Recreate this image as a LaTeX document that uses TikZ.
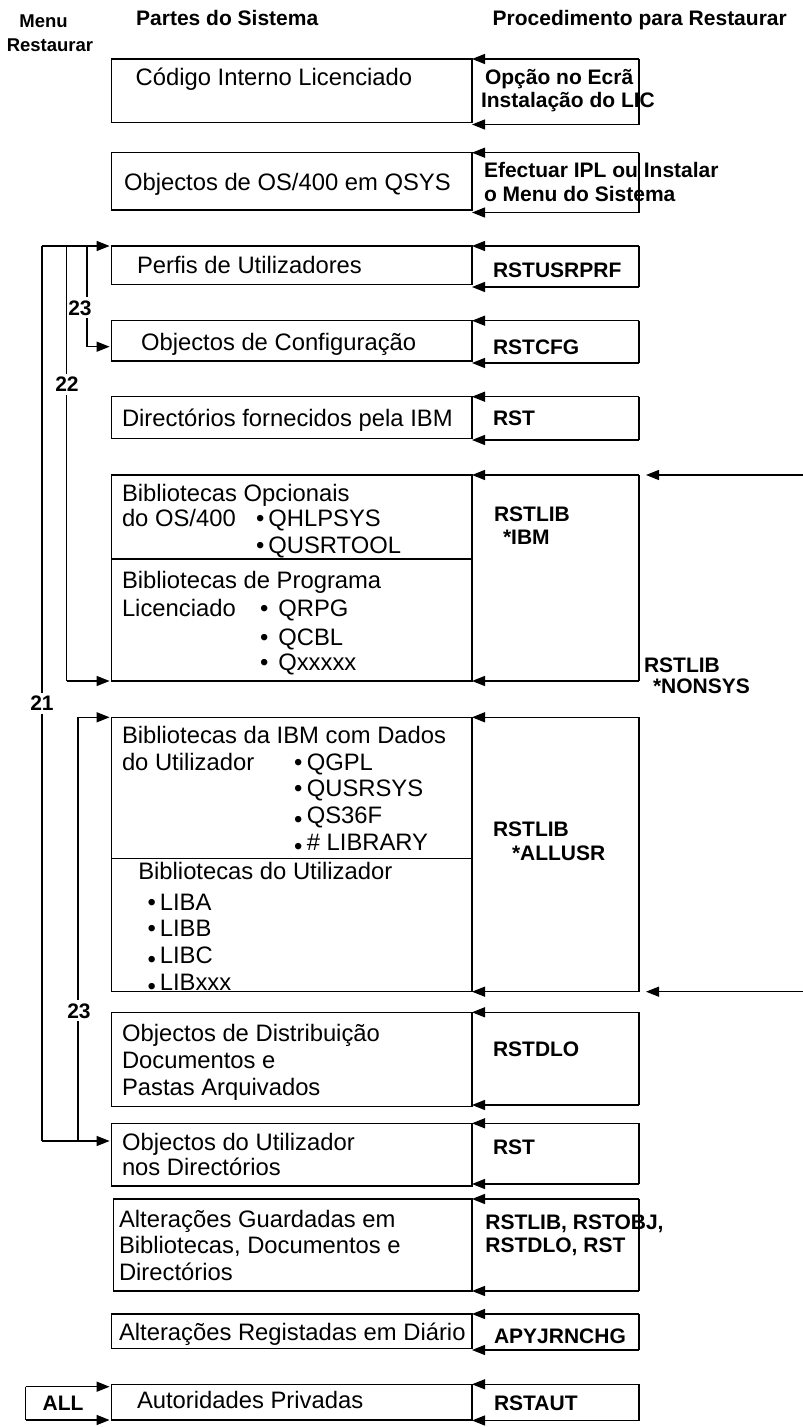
\documentclass[tikz,border=0pt]{standalone}
\usepackage{fontspec}
\setmainfont{Liberation Sans}
\usetikzlibrary{arrows.meta}
\tikzset{
  box/.style={draw, line width=1.3pt, inner sep=0pt, outer sep=0pt, anchor=north west},
  rt/.style={anchor=west, inner sep=0pt, outer sep=0pt, font=\fontsize{23.8}{26}\selectfont, text height=17pt, text depth=0pt},
  bt/.style={anchor=west, inner sep=0pt, outer sep=0pt, font=\bfseries\fontsize{21}{24}\selectfont, text height=15pt, text depth=0pt},
  hd/.style={inner sep=0pt, font=\bfseries\fontsize{21}{24}\selectfont, text height=15pt, text depth=0pt},
  num/.style={fill=white, inner xsep=1pt, inner ysep=3pt, font=\bfseries\fontsize{21}{24}\selectfont, text height=15pt, text depth=0pt},
  ln/.style={line width=1.3pt},
  arr/.style={line width=1.3pt, -{Triangle[length=13pt,width=10pt]}},
}
\newcommand\rbr[3]{%
  \coordinate (#1t) at (639,#2);
  \coordinate (#1b) at (639,#3);
  \draw[ln] (#1t) -- (#1b);
  \draw[arr] (#1t) -- (#1.east |- #1t);
  \draw[arr] (#1b) -- (#1.east |- #1b);
}
\newcommand\bul[1]{•\hspace{#1}}
\newcommand\lowbul[1]{\raisebox{-4pt}{•}\hspace{#1}}
\begin{document}
\begin{tikzpicture}[x=1pt,y=-1pt]
\useasboundingbox[fill=white] (0,0) rectangle (803,1427);

% headers
\node[hd, font=\bfseries\fontsize{18.5}{20}\selectfont, text height=13.3pt] (hmenu) at (43.5,20.7) {Menu};
\node[hd, font=\bfseries\fontsize{18.5}{20}\selectfont, text height=13.3pt] (hrest) at (50,45) {Restaurar};
\node[hd, anchor=west] (hpartes) at (136,18.3) {Partes do Sistema};
\node[hd, anchor=east] (hproc) at (787,18.3) {Procedimento para Restaurar};

% boxes
\node[box, minimum width=360.4pt, minimum height=63.3pt] (b1) at (111.6,59) {};
\node[box, minimum width=360.4pt, minimum height=57.3pt] (b2) at (111.6,152.7) {};
\node[box, minimum width=360.4pt, minimum height=38.3pt] (b3) at (111.6,246) {};
\node[box, minimum width=360.4pt, minimum height=40.3pt] (b4) at (111.6,320.7) {};
\node[box, minimum width=360.4pt, minimum height=41.6pt] (b5) at (111.6,396.7) {};
\node[box, minimum width=360.4pt, minimum height=206pt] (b6) at (111.6,475) {};
\node[box, minimum width=360.4pt, minimum height=274.4pt] (b7) at (111.6,717.3) {};
\node[box, minimum width=360.4pt, minimum height=94.4pt] (b8) at (111.6,1012.3) {};
\node[box, minimum width=360.4pt, minimum height=62.7pt] (b9) at (111.6,1123.3) {};
\node[box, minimum width=358.3pt, minimum height=92pt] (b10) at (113.7,1199) {};
\node[box, minimum width=360.4pt, minimum height=34.3pt] (b11) at (111.6,1314) {};
\node[box, minimum width=360.4pt, minimum height=35.7pt] (b12) at (111.6,1384.3) {};

% dividers
\coordinate (d1a) at (111.6,559); \coordinate (d1b) at (472,559);
\draw[ln] (d1a) -- (d1b);
\coordinate (d2a) at (111.6,858.7); \coordinate (d2b) at (472,858.7);
\draw[ln] (d2a) -- (d2b);

% right brackets
\rbr{b1}{59}{124.5}
\rbr{b2}{152.7}{212.5}
\rbr{b3}{246}{287}
\rbr{b4}{320.7}{363}
\rbr{b5}{396.7}{440}
\rbr{b6}{475}{681}
\rbr{b7}{717.3}{991.7}
\rbr{b8}{1012.3}{1105}
\rbr{b9}{1123.3}{1184}
\rbr{b10}{1199}{1291}
\rbr{b11}{1314}{1350}
\rbr{b12}{1384.3}{1420.5}

% far right arrows
\coordinate (fr1) at (803,475); \coordinate (fr1e) at (646,475);
\draw[arr] (fr1) -- (fr1e);
\coordinate (fr2) at (803,991.7); \coordinate (fr2e) at (646,991.7);
\draw[arr] (fr2) -- (fr2e);

% left menu lines
\coordinate (l21t) at (42,246); \coordinate (l21b) at (42,1141);
\draw[ln] (l21t) -- (l21b);
\draw[arr, shorten >=2pt] (l21t) -- (b3.west |- l21t);
\draw[arr, shorten >=2pt] (l21b) -- (b9.west |- l21b);
\coordinate (l22t) at (66.5,246); \coordinate (l22b) at (66.5,681);
\draw[ln] (l22t) -- (l22b);
\draw[arr, shorten >=2pt] (l22b) -- (b6.west |- l22b);
\coordinate (l23t) at (87,246); \coordinate (l23b) at (87,346.7);
\draw[ln] (l23t) -- (l23b);
\draw[arr, shorten >=2pt] (l23b) -- (b4.west |- l23b);
\coordinate (m23t) at (78,717.3); \coordinate (m23b) at (78,1141);
\draw[ln] (m23t) -- (m23b);
\draw[arr, shorten >=2pt] (m23t) -- (b7.west |- m23t);
\coordinate (allt) at (25.6,1386.7); \coordinate (allb) at (25.6,1420);
\draw[ln] (allt) -- (allb);
\draw[arr, shorten >=2pt] (allt) -- (b12.west |- allt);
\draw[arr, shorten >=2pt] (allb) -- (b12.west |- allb);

% labels on lines
\node[num] (n23a) at (80,307.7) {23};
\node[num] (n22) at (67,384) {22};
\node[num] (n21) at (42,703) {21};
\node[num] (n23b) at (79,1010.7) {23};
\node[hd] (nall) at (63,1403) {ALL};

% left texts
\node[rt] (t1) at (135.7,77.3) {Código Interno Licenciado};
\node[rt] (t2) at (124,181.7) {Objectos de OS/400 em QSYS};
\node[rt] (t3) at (137,264.5) {Perfis de Utilizadores};
\node[rt] (t4) at (141,341.7) {Objectos de Configuração};
\node[rt] (t5) at (122,418.3) {Directórios fornecidos pela IBM};
\node[rt] (t6a) at (122,493.3) {Bibliotecas Opcionais};
\node[rt] (t6b) at (122,518) {do OS/400};
\node[rt] (t6c) at (256,518) {\bul{4pt}QHLPSYS};
\node[rt] (t6d) at (256,545) {\bul{4pt}QUSRTOOL};
\node[rt] (t6e) at (122,580) {Bibliotecas de Programa};
\node[rt] (t6f) at (122,607.5) {Licenciado};
\node[rt] (t6g) at (260,607.5) {\bul{10pt}QRPG};
\node[rt] (t6h) at (260,636.7) {\bul{10pt}QCBL};
\node[rt] (t6i) at (260,662) {\bul{10pt}Qxxxxx};
\node[rt] (t7a) at (122,735) {Bibliotecas da IBM com Dados};
\node[rt] (t7b) at (122,761.7) {do Utilizador};
\node[rt] (t7c) at (294,761.7) {\bul{4.5pt}QGPL};
\node[rt] (t7d) at (294,788.3) {\bul{4.5pt}QUSRSYS};
\node[rt] (t7e) at (294,815) {\lowbul{4.5pt}QS36F};
\node[rt] (t7f) at (294,841.7) {\lowbul{4.5pt}\# LIBRARY};
\node[rt] (t7g) at (138.3,870.5) {Bibliotecas do Utilizador};
\node[rt] (t7h) at (147.5,901.7) {\bul{4pt}LIBA};
\node[rt] (t7i) at (147.5,928) {\bul{4pt}LIBB};
\node[rt] (t7j) at (147.5,955) {\lowbul{4pt}LIBC};
\node[rt] (t7k) at (147.5,981.7) {\lowbul{4pt}LIBxxx};
\node[rt] (t8a) at (122,1033.3) {Objectos de Distribuição};
\node[rt] (t8b) at (122,1060) {Documentos e};
\node[rt] (t8c) at (122,1086.7) {Pastas Arquivados};
\node[rt] (t9a) at (122,1141.7) {Objectos do Utilizador};
\node[rt] (t9b) at (122,1166.7) {nos Directórios};
\node[rt] (t10a) at (119,1219.3) {Alterações Guardadas em};
\node[rt] (t10b) at (119,1245) {Bibliotecas, Documentos e};
\node[rt] (t10c) at (119,1271.7) {Directórios};
\node[rt] (t11) at (119,1331.7) {Alterações Registadas em Diário};
\node[rt] (t12) at (137,1400) {Autoridades Privadas};

% right texts
\node[bt] (r1a) at (485,77.3) {Opção no Ecrã};
\node[bt] (r1b) at (481,100) {Instalação do LIC};
\node[bt] (r2a) at (484,170) {Efectuar IPL ou Instalar};
\node[bt] (r2b) at (484,194) {o Menu do Sistema};
\node[bt] (r3) at (493,270) {RSTUSRPRF};
\node[bt] (r4) at (493,346.7) {RSTCFG};
\node[bt] (r5) at (493,418.3) {RST};
\node[bt] (r6a) at (494,514.3) {RSTLIB};
\node[bt] (r6b) at (503,536.7) {*IBM};
\node[bt] (r6c) at (644,665) {RSTLIB};
\node[bt] (r6d) at (653,686) {*NONSYS};
\node[bt] (r7a) at (493,829.3) {RSTLIB};
\node[bt] (r7b) at (512,853.3) {*ALLUSR};
\node[bt] (r8) at (493,1049) {RSTDLO};
\node[bt] (r9) at (493,1146.7) {RST};
\node[bt] (r10a) at (485.4,1221.7) {RSTLIB, RSTOBJ,};
\node[bt] (r10b) at (485.4,1245) {RSTDLO, RST};
\node[bt] (r11) at (494,1335.7) {APYJRNCHG};
\node[bt] (r12) at (494,1403.3) {RSTAUT};
\end{tikzpicture}
\end{document}
